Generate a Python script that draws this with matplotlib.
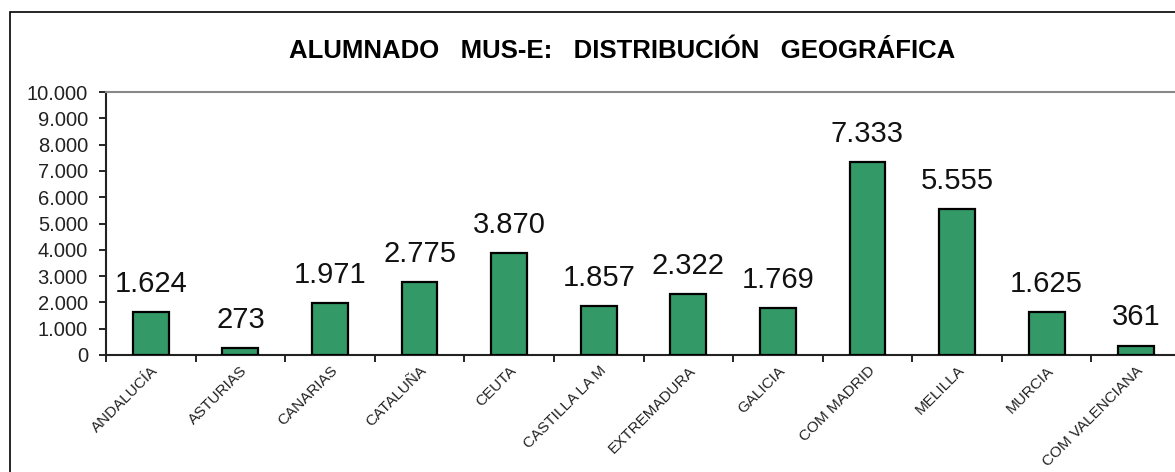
import matplotlib
matplotlib.use("Agg")
import matplotlib.pyplot as plt
import matplotlib.patches as patches
from matplotlib.ticker import FuncFormatter, FixedLocator

plt.rcParams['font.family'] = ['Liberation Sans', 'DejaVu Sans']

# Data
regions = ['ANDALUCÍA', 'ASTURIAS', 'CANARIAS', 'CATALUÑA', 'CEUTA', 'CASTILLA LA M',
           'EXTREMADURA', 'GALICIA', 'COM MADRID', 'MELILLA', 'MURCIA', 'COM VALENCIANA']
students = [1624, 273, 1971, 2775, 3870, 1857, 2322, 1769, 7333, 5555, 1625, 361]

W, H = 1175, 472
fig = plt.figure(figsize=(W / 100, H / 100), dpi=100)
fig.patch.set_facecolor('white')

# outer chart frame (cut off at right and bottom in the original)
frame = patches.Rectangle((10 / W, -20 / H), (W + 20) / W, (H - 12 + 20) / H,
                          transform=fig.transFigure, fill=False,
                          edgecolor='black', linewidth=1.2, clip_on=False)
fig.patches.append(frame)

ax = fig.add_axes([106 / W, 1 - 355 / H, (1181 - 106) / W, (355 - 92) / H])

x = range(len(regions))
bars = ax.bar(x, students, width=0.4, color='#339966', edgecolor='black', linewidth=1.6, zorder=3)

# value labels above bars
for xi, v in zip(x, students):
    ax.annotate(f'{v:,}'.replace(',', '.'), (xi, v), xytext=(0, 14.5), textcoords='offset points',
                ha='center', va='baseline', fontsize=21, color='#111111')

ax.set_xlim(-0.5, len(regions) - 0.5)
ax.set_ylim(0, 10000)
ax.set_yticks(range(0, 10001, 1000))
ax.yaxis.set_major_formatter(FuncFormatter(lambda v, p: f'{int(v):,}'.replace(',', '.')))
ax.tick_params(axis='y', length=5, width=1.2, pad=8, labelsize=14.5, labelcolor='#222222')

# ticks between categories, labels at category centers
ax.xaxis.set_major_locator(FixedLocator([i - 0.5 for i in range(len(regions) + 1)]))
ax.xaxis.set_major_formatter(FuncFormatter(lambda v, p: ''))
ax.xaxis.set_minor_locator(FixedLocator(list(x)))
ax.set_xticklabels(regions, minor=True, rotation=45, ha='right', va='top',
                   rotation_mode='anchor', fontsize=11, color='#222222')
ax.tick_params(axis='x', which='major', length=5, width=1.2)
ax.tick_params(axis='x', which='minor', length=0, pad=6)

for side in ['top', 'right']:
    ax.spines[side].set_color('#888888')
    ax.spines[side].set_linewidth(1.5)
for side in ['left', 'bottom']:
    ax.spines[side].set_color('#222222')
    ax.spines[side].set_linewidth(1.5)

fig.text(622 / W, 1 - 51 / H, 'ALUMNADO   MUS-E:   DISTRIBUCIÓN   GEOGRÁFICA',
         ha='center', va='center', fontsize=18.5, fontweight='bold', color='black')

fig.savefig('out.png', dpi=100)
